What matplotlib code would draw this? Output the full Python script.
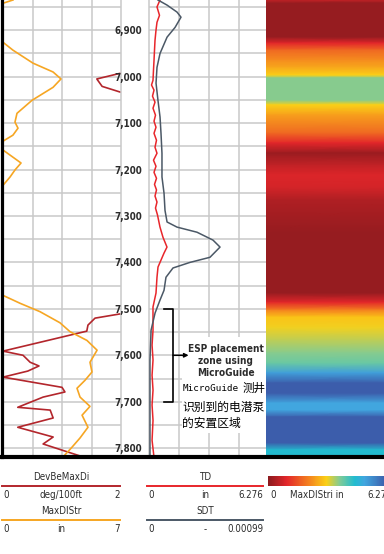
import numpy as np
import matplotlib
matplotlib.use("Agg")
import matplotlib.pyplot as plt
from matplotlib.colors import LinearSegmentedColormap, Normalize
from matplotlib.cm import ScalarMappable
from matplotlib.lines import Line2D
from matplotlib.patches import Rectangle
import matplotlib.transforms as mtrans

plt.rcParams['font.family'] = ['DejaVu Sans']
plt.rcParams['font.stretch'] = 'condensed'

# ---------------- data ----------------
depth_ticks = [6900, 7000, 7100, 7200, 7300, 7400, 7500, 7600, 7700, 7800]
depth_labels = ["6,900", "7,000", "7,100", "7,200", "7,300", "7,400", "7,500", "7,600", "7,700", "7,800"]
depth_top, depth_bottom = 6835, 7819

# DevBeMaxDi (deg/100ft, 0-2), NaN = off track
dev_depth = [6986, 6993, 7005, 7021, 7033, 7040, np.nan,
             7505, 7511, 7520, 7535, 7548, 7591, 7600, 7615, 7623, 7634, 7647, 7669,
             7679, 7690, 7712, 7718, 7735, 7755, 7776, 7791, 7819]
dev_val = [2.3, 1.98, 1.59, 1.68, 1.98, 2.3, np.nan,
           2.3, 1.98, 1.56, 1.44, 1.42, 0, 0.34, 0.46, 0.61, 0.42, 0, 1.0,
           1.05, 0.68, 0.25, 0.8, 0.85, 0.25, 0.85, 0.68, 1.36]

# MaxDIStr (in, 0-7)
mx_depth = [6835, 6842, 6926, 6943, 6971, 6990, 7005, 7023, 7051, 7079,
            7098, 7111, 7126, 7139, 7158, 7169, 7186, 7201, 7216, 7234,
            7471, 7488, 7506, 7530, 7549, 7568, 7589, 7615, 7636, 7654,
            7671, 7690, 7710, 7729, 7755, 7778, 7798, 7819]
mx_val = [0.59, 0, 0, 0.59, 1.78, 2.97, 3.44, 2.97, 1.72, 0.83,
          0.71, 0.89, 0.59, 0, 0, 0.42, 1.07, 0.71, 0.42, 0,
          0, 1.01, 2.19, 3.38, 3.97, 4.98, 5.58, 5.16, 5.28, 4.86,
          4.39, 4.57, 5.16, 4.69, 5.04, 4.57, 4.09, 3.56]

# TD (in, 0-6.276)
td_depth = [6835, 6850, 6868, 6883, 6900, 6922, 6943, 6965, 6986, 7008,
            7018, 7029, 7042, 7055, 7068, 7083, 7096, 7109, 7122, 7137,
            7152, 7165, 7180, 7193, 7206, 7219, 7232, 7244, 7257, 7270,
            7283, 7298, 7324, 7346, 7367, 7380, 7395, 7410, 7432, 7466,
            7496, 7518, 7546, 7578, 7610, 7643, 7675, 7707, 7740, 7783, 7819]
td_val = [0.575, 0.418, 0.549, 0.418, 0.366, 0.314, 0.288, 0.262, 0.235, 0.209,
          0.131, 0.262, 0.183, 0.314, 0.209, 0.340, 0.262, 0.366, 0.262, 0.392,
          0.314, 0.418, 0.235, 0.366, 0.262, 0.392, 0.288, 0.392, 0.314, 0.418,
          0.340, 0.445, 0.575, 0.732, 0.941, 0.785, 0.628, 0.471, 0.418, 0.366,
          0.209, 0.209, 0.21, 0.16, 0.21, 0.16, 0.21, 0.16, 0.21, 0.16, 0.26]

# SDT (-, 0-0.00099)
sdt_depth = [6835, 6846, 6861, 6872, 6894, 6915, 6950, 6980, 7014, 7051,
             7087, 7122, 7165, 7216, 7251, 7288, 7313, 7324, 7335, 7352,
             7367, 7389, 7400, 7412, 7432, 7460, 7481, 7509, 7546, 7611,
             7697, 7819]
sdt_val = [7.4e-5, 1.49e-4, 2.31e-4, 2.64e-4, 2.15e-4, 1.49e-4, 9.1e-5, 6.6e-5, 5.8e-5, 7.4e-5,
           9.1e-5, 9.9e-5, 1.07e-4, 1.07e-4, 1.24e-4, 1.32e-4, 1.49e-4, 2.31e-4, 3.96e-4, 5.28e-4,
           5.86e-4, 5.03e-4, 3.38e-4, 1.98e-4, 1.40e-4, 1.24e-4, 9.1e-5, 5.0e-5, 1.7e-5, 8e-6,
           8e-6, 8e-6]

# MaxDIStri image (in, 0-6.276)
img_depth = [6835, 6842, 6915, 6928, 6943, 6965, 6980, 6997, 7003, 7051,
             7061, 7083, 7122, 7143, 7165, 7191, 7212, 7238, 7266, 7337,
             7466, 7486, 7503, 7518, 7540, 7568, 7595, 7617, 7638, 7660,
             7682, 7703, 7718, 7733, 7789, 7804, 7819]
img_val = [0.6, 0.13, 0.13, 0.94, 1.76, 2.2, 2.5, 2.95, 3.6, 3.6,
           2.95, 2.4, 1.76, 0.94, 0.19, 0.6, 0.88, 0.8, 0.4, 0.13,
           0.13, 0.94, 2.07, 2.8, 3.0, 3.3, 3.6, 3.8, 5.0, 5.95,
           5.95, 4.9, 4.9, 5.95, 5.95, 4.4, 4.4]

dev_range = (0, 2)
mx_range = (0, 7)
td_range = (0, 6.276)
sdt_range = (0, 0.00099)
img_range = (0, 6.276)

# ---------------- style ----------------
C_DEV = '#b3262c'
C_MX = '#f6a623'
C_TD = '#e8262b'
C_SDT = '#4b5866'
C_GRID = '#c9c9c9'
C_TXT = '#2b2b2b'

cmap = LinearSegmentedColormap.from_list('maxdi', [
    (0.0, '#8a1a1e'), (0.15, '#e3262a'), (0.33, '#f4821f'), (0.47, '#fbd016'),
    (0.58, '#7fcb97'), (0.70, '#22bccf'), (0.78, '#41a6df'), (1.0, '#3b479b')])
norm = Normalize(*img_range)

W, H = 384, 554
def fx(p): return p / W
def fy(p): return 1 - p / H

fig = plt.figure(figsize=(W / 100, H / 100), dpi=100)

AX_TOP, AX_BOT = 0, 457
hgt = fy(AX_TOP) - fy(AX_BOT)

def style_track(ax, xlim):
    ax.set_xlim(*xlim)
    ax.set_ylim(depth_bottom, depth_top)
    ax.set_xticks([xlim[1] * f for f in (0.25, 0.5, 0.75)])
    ax.set_yticks(depth_ticks)
    ax.set_yticks(list(range(6850, 7850, 100)), minor=True)
    ax.grid(True, which='both', color=C_GRID, lw=1.1)
    ax.set_axisbelow(True)
    ax.tick_params(axis='x', length=0, labelbottom=False)
    ax.tick_params(axis='y', which='both', length=0)
    for s in ax.spines.values():
        s.set_visible(False)

# left track
ax_l = fig.add_axes([fx(3), fy(AX_BOT), fx(121) - fx(3), hgt])
style_track(ax_l, dev_range)
ax_l.set_yticklabels([])
ax_l.spines['right'].set_visible(True)
ax_l.spines['right'].set_color(C_GRID)
ax_l.spines['right'].set_linewidth(1.1)
ax_l.plot(dev_val, dev_depth, color=C_DEV, lw=1.2)
ax_l2 = ax_l.twiny()
ax_l2.set_xlim(*mx_range)
ax_l2.axis('off')
ax_l2.plot(mx_val, mx_depth, color=C_MX, lw=1.2)

# middle track
ax_m = fig.add_axes([fx(149), fy(AX_BOT), fx(269) - fx(149), hgt])
style_track(ax_m, td_range)
ax_m.set_yticklabels(depth_labels)
ax_m.tick_params(axis='y', pad=5, labelsize=7.0, labelcolor=C_TXT)
for t in ax_m.get_yticklabels():
    t.set_fontweight('bold')
ax_m.spines['left'].set_visible(True)
ax_m.spines['left'].set_color(C_GRID)
ax_m.spines['left'].set_linewidth(1.1)
ax_m.plot(td_val, td_depth, color=C_TD, lw=1.1, zorder=3)
ax_m2 = ax_m.twiny()
ax_m2.set_xlim(*sdt_range)
ax_m2.axis('off')
ax_m2.plot(sdt_val, sdt_depth, color=C_SDT, lw=1.1, zorder=2)

# annotation in middle track
bt = mtrans.blended_transform_factory(ax_m2.transAxes, ax_m2.transData)
ax_m2.add_patch(Rectangle((0.275, 7561), 0.75, 7768 - 7561, transform=bt,
                          facecolor='white', edgecolor='none', zorder=4, clip_on=False))
ax_m2.plot([0.125, 0.2, 0.2, 0.125], [7500, 7500, 7700, 7700], color='black',
           lw=1.2, transform=bt, zorder=5, clip_on=False)
ax_m2.annotate('', xy=(0.33, 7600), xytext=(0.2, 7600), xycoords=bt, textcoords=bt,
               arrowprops=dict(arrowstyle='-|>', color='black', lw=1.1,
                               mutation_scale=6, shrinkA=0, shrinkB=0), zorder=5)
ax_m2.text(0.64, 7613, 'ESP placement\nzone using\nMicroGuide', transform=bt,
           ha='center', va='center', fontsize=7.2, fontweight='bold', color=C_TXT,
           linespacing=1.25, zorder=6)
ax_m2.text(0.28, 7671, 'MicroGuide', transform=bt, ha='left', va='center',
           fontsize=6.7, family=['DejaVu Sans Mono'], fontstretch='normal',
           color='black', zorder=6)
ax_m2.text(0.78, 7671, '测井', transform=bt, ha='left', va='center',
           fontsize=8.3, family=['Noto Sans CJK SC'], fontstretch='normal',
           color='black', zorder=6)
ax_m2.text(0.275, 7729, '识别到的电潜泵\n的安置区域', transform=bt, ha='left', va='center',
           fontsize=8.5, family=['Noto Sans CJK SC'], fontstretch='normal', color='black',
           linespacing=1.3, zorder=6)

# image track
ax_i = fig.add_axes([fx(266), fy(AX_BOT), fx(392) - fx(266), hgt])
ax_i.set_ylim(depth_bottom, depth_top)
ax_i.set_xlim(0, 1)
ax_i.axis('off')
Y = np.array([img_depth, img_depth]).T
X = np.tile([0.0, 1.0], (len(img_depth), 1))
Cv = np.array([img_val, img_val]).T
ax_i.pcolormesh(X, Y, Cv, cmap=cmap, norm=norm, shading='gouraud')

# borders
fig.add_artist(Line2D([0, 1], [fy(457), fy(457)], color='black', lw=3,
                      transform=fig.transFigure))
fig.add_artist(Line2D([fx(1.5), fx(1.5)], [fy(457), 1], color='black', lw=2.3,
                      transform=fig.transFigure))

# legend headers
FS = 7.0
def header(x0, x1, title, color, ytitle, yline, yscale, lo, unit, hi):
    xc = (x0 + x1) / 2
    fig.text(fx(xc), fy(ytitle), title, ha='center', va='center', fontsize=FS, color=C_TXT)
    fig.add_artist(Line2D([fx(x0), fx(x1)], [fy(yline)] * 2, color=color, lw=1.4,
                          transform=fig.transFigure))
    fig.text(fx(x0 + 1), fy(yscale), lo, ha='left', va='center', fontsize=FS, color=C_TXT)
    fig.text(fx(xc), fy(yscale), unit, ha='center', va='center', fontsize=FS, color=C_TXT)
    fig.text(fx(x1), fy(yscale), hi, ha='right', va='center', fontsize=FS, color=C_TXT)

header(2, 120, 'DevBeMaxDi', C_DEV, 477, 486, 495, '0', 'deg/100ft', '2')
header(2, 120, 'MaxDIStr', C_MX, 511, 520, 529, '0', 'in', '7')
header(147, 263, 'TD', C_TD, 477, 486, 495, '0', 'in', '6.276')
header(147, 263, 'SDT', C_SDT, 511, 520, 529, '0', '-', '0.00099')

cax = fig.add_axes([fx(268), fy(486), fx(392) - fx(268), 10 / H])
cb = fig.colorbar(ScalarMappable(norm=norm, cmap=cmap), cax=cax, orientation='horizontal')
cb.set_ticks([])
cb.outline.set_visible(False)
fig.text(fx(270), fy(495), '0', ha='left', va='center', fontsize=FS, color=C_TXT)
fig.text(fx(317), fy(495), 'MaxDIStri in', ha='center', va='center', fontsize=FS, color=C_TXT)
fig.text(fx(367), fy(495), '6.276', ha='left', va='center', fontsize=FS, color=C_TXT)

fig.savefig('out.png', dpi=100)
